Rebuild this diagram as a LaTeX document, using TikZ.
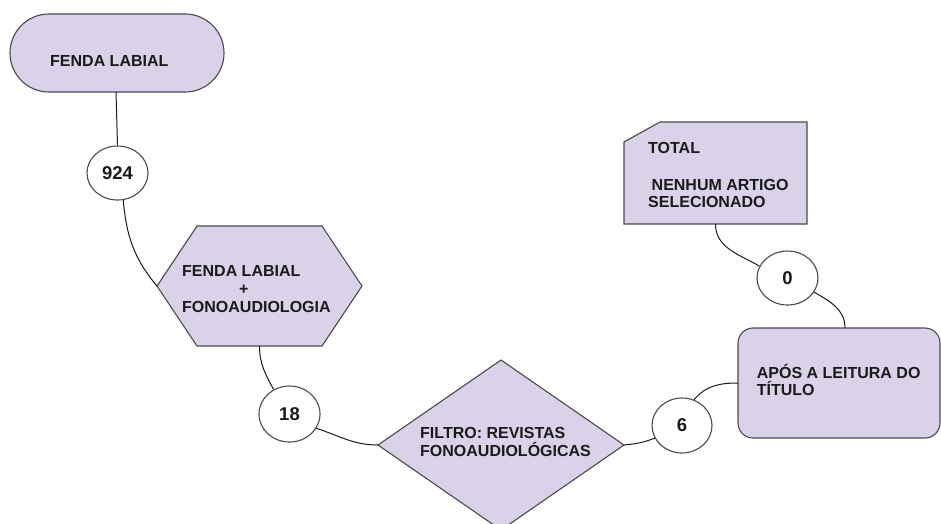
\documentclass[tikz,border=0pt]{standalone}
\usepackage{fontspec}
\setmainfont{Liberation Sans}
\usetikzlibrary{shapes.geometric}
\definecolor{lav}{HTML}{D9D2E9}
\definecolor{edge}{HTML}{4A4A4A}
\definecolor{ink}{HTML}{1A1A1A}

\begin{document}
\begin{tikzpicture}[x=1pt,y=-1pt,
  shapebox/.style={draw=edge, line width=1.1pt, fill=lav},
  frame/.style={rectangle, draw=none, inner sep=0pt, outer sep=0pt},
  count/.style={ellipse, draw=edge, line width=1.1pt, fill=white, inner sep=0pt,
    text=ink, font=\fontsize{18.5}{21}\selectfont\bfseries},
  boxtext/.style={anchor=base west, inner sep=0pt, align=left, text=ink,
    font=\fontsize{16}{18}\selectfont\bfseries},
  link/.style={draw=ink, line width=1pt}
]
\useasboundingbox (0,0) rectangle (941,523);
\clip (0,0) rectangle (941,523);

% outline frames of the flow boxes
\node[frame, minimum width=214pt, minimum height=78pt] (fenda) at (117,53) {};
\node[frame, minimum width=205pt, minimum height=120pt] (hex) at (259.5,286) {};
\node[frame, minimum width=246pt, minimum height=170pt] (filtro) at (501,445) {};
\node[frame, minimum width=183pt, minimum height=102pt] (total) at (715.5,173) {};
\node[frame, minimum width=202pt, minimum height=110pt] (apos) at (839,383) {};

% main boxes
\path[shapebox, rounded corners=38.9pt] (fenda.north west) rectangle (fenda.south east);
\path[shapebox] ([xshift=40pt]hex.north west) -- ([xshift=-40pt]hex.north east) -- (hex.east)
  -- ([xshift=-40pt]hex.south east) -- ([xshift=40pt]hex.south west) -- (hex.west) -- cycle;
\path[shapebox] (filtro.north) -- (filtro.east) -- (filtro.south) -- (filtro.west) -- cycle;
\path[shapebox] ([yshift=-20pt]total.north west) -- ([xshift=36pt]total.north west)
  -- (total.north east) -- (total.south east) -- (total.south west) -- cycle;
\path[shapebox, rounded corners=15pt] (apos.north west) rectangle (apos.south east);

% count bubbles
\node[count, minimum width=61pt, minimum height=54pt] (n924) at (117.5,173) {924};
\node[count, minimum width=61pt, minimum height=56pt] (n18) at (289.5,414) {18};
\node[count, minimum width=60pt, minimum height=55pt] (n6) at (682,425.5) {6};
\node[count, minimum width=61pt, minimum height=54pt] (n0) at (787.5,278) {0};

% connectors
\draw[link] ([xshift=-1pt]fenda.south) -- (n924.north);
\draw[link] (n924.-78) to[out=-85,in=130] (hex.west);
\draw[link] (hex.south) to[out=-90,in=118] (n18.123);
\draw[link] (n18.-28) to[out=-18,in=180] (filtro.west);
\draw[link] (filtro.east) to[out=5,in=-160] (n6.-155);
\draw[link] (n6.65) to[out=50,in=180] (apos.west);
\draw[link] ([xshift=6pt]apos.north) to[out=90,in=-30] (n0.-28);
\draw[link] (total.south) to[out=-90,in=150] (n0.157);

% box texts (anchored at the baseline of the last line)
\node[boxtext] (fendaT) at (50,66.7) {FENDA LABIAL};
\node[boxtext] (hexT) at (182,312.7) {FENDA LABIAL\\\hspace*{57pt}+\\FONOAUDIOLOGIA};
\node[boxtext] (filtroT) at (420,456) {FILTRO: REVISTAS\\FONOAUDIOLÓGICAS};
\node[boxtext, font=\fontsize{16}{17}\selectfont\bfseries] (totalT) at (648,207.7)
  {TOTAL\\[20pt]\hspace*{3.5pt}NENHUM ARTIGO\\SELECIONADO};
\node[boxtext, font=\fontsize{16}{17}\selectfont\bfseries] (aposT) at (756.7,395)
  {APÓS A LEITURA DO\\TÍTULO};
\end{tikzpicture}
\end{document}
